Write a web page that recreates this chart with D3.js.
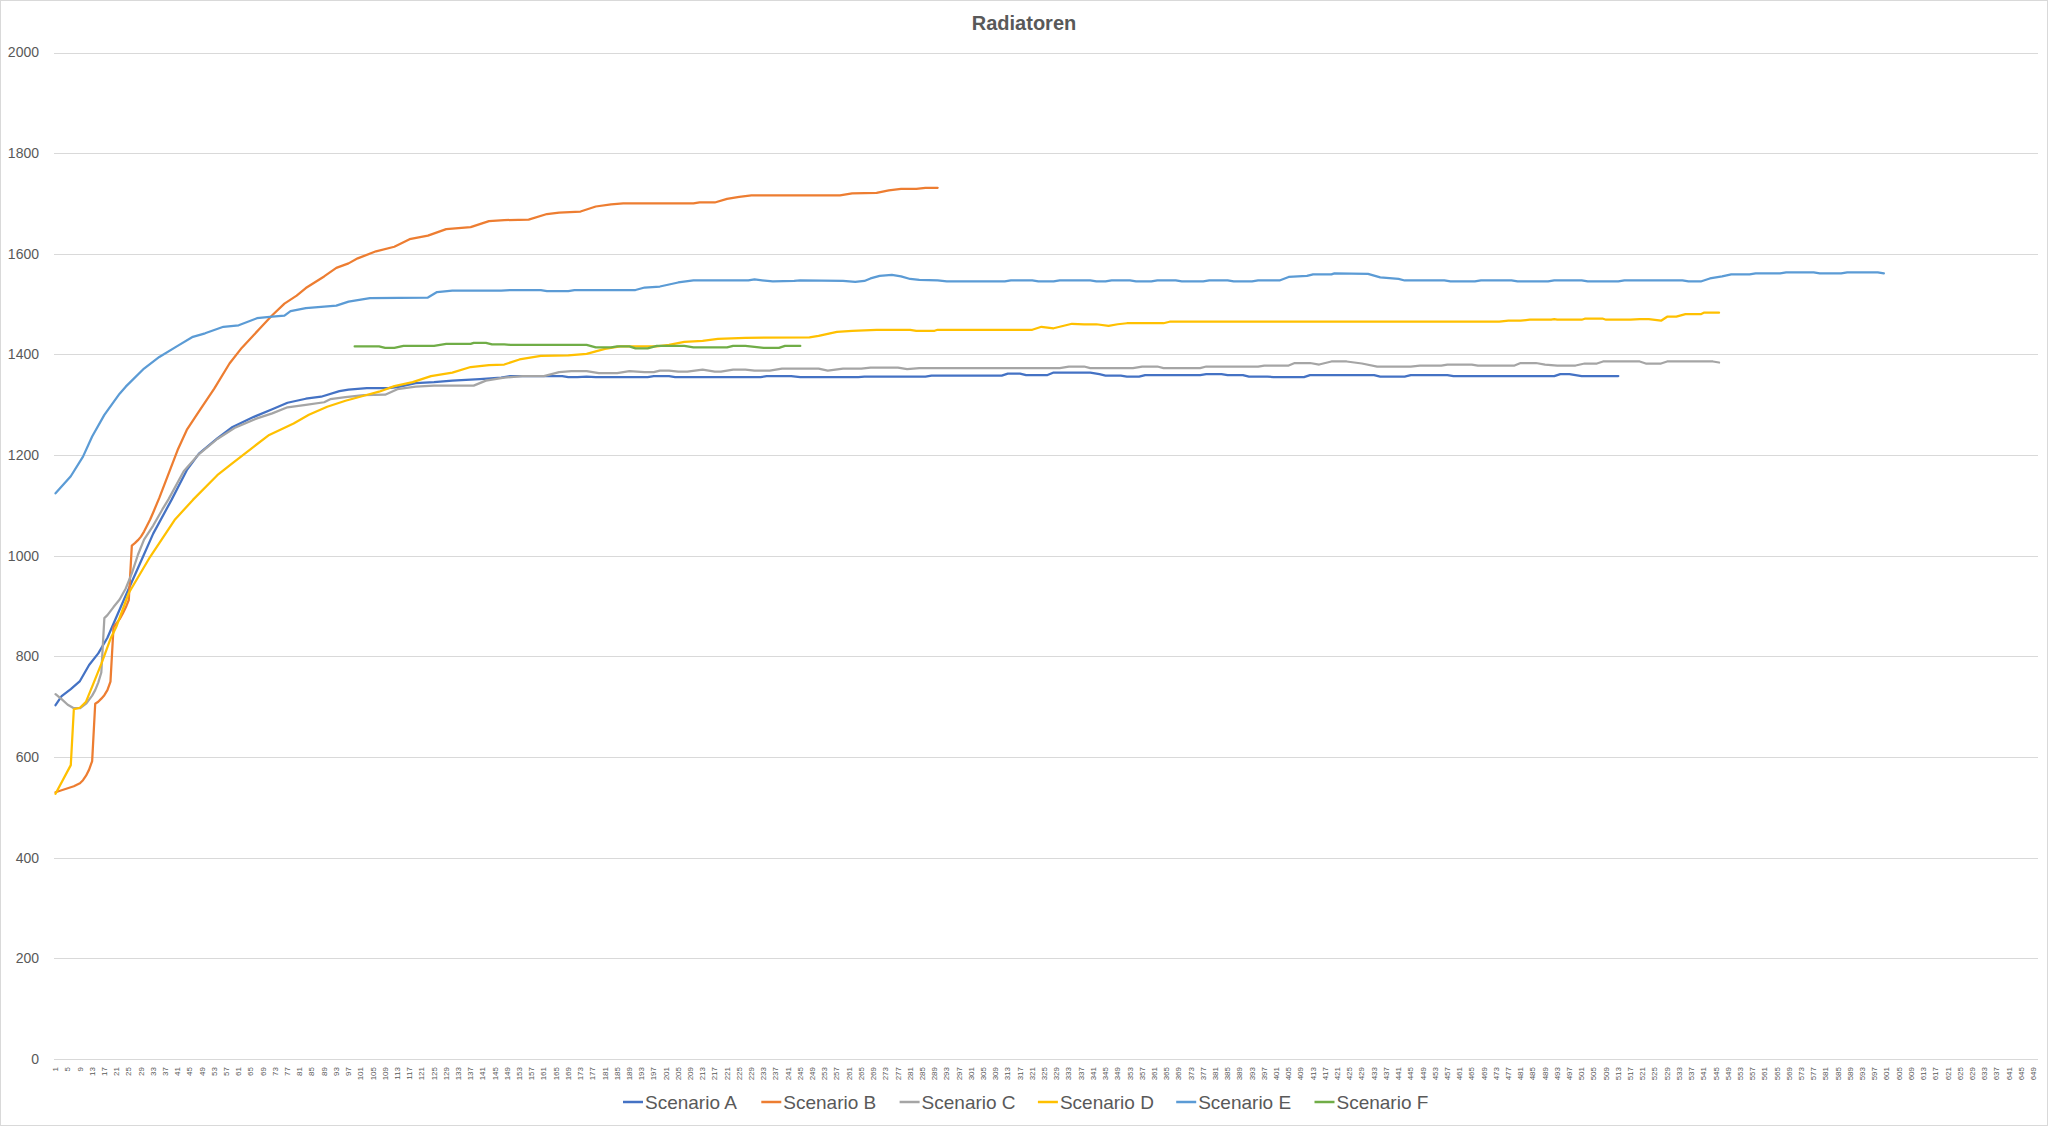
<!DOCTYPE html>
<html lang="de">
<head>
  <meta charset="UTF-8">
  <title>Radiatoren</title>
  <script src="https://d3js.org/d3.v7.min.js"></script>
  <style>
    body { margin: 0; background: #fff; }
    text { font-family: "Liberation Sans", Arial, sans-serif; fill: #595959; }
    .grid line { stroke: #d9d9d9; stroke-width: 1px; }
    .series { fill: none; stroke-width: 2.25px; stroke-linejoin: round; stroke-linecap: round; }
  </style>
</head>
<body>
<svg id="chart"></svg>
<script>
  // categories 1..650, a label on every 4th one
  var categories = d3.range(1, 651);
  var tickLabels = categories.filter(function(d) { return (d - 1) % 4 === 0; });
  var yTicks = [0, 200, 400, 600, 800, 1000, 1200, 1400, 1600, 1800, 2000];

  var seriesNames = ["Scenario A", "Scenario B", "Scenario C", "Scenario D", "Scenario E", "Scenario F"];
  var seriesColors = ["#4472C4", "#ED7D31", "#A5A5A5", "#FFC000", "#5B9BD5", "#70AD47"];

  // [category, value], line drawn straight between them
  var scenarioA = [[1,703],[3,721],[6,735],[9,751],[12,783],[15,806],[18,837],[24,921],[29,989],[33,1044],[39,1111],[44,1170],[48,1203],[54,1233],[59,1256],[66,1276],[72,1291],[77,1304],[83,1312],[88,1316],[94,1327],[97,1330],[103,1333],[110,1333],[113,1335],[119,1343],[125,1345],[131,1348],[140,1351],[147,1354],[150,1357],[167,1357],[169,1355],[172,1355],[175,1356],[178,1355],[195,1355],[197,1357],[202,1357],[204,1355],[232,1355],[234,1357],[242,1357],[245,1355],[264,1355],[266,1356],[286,1356],[288,1358],[311,1358],[313,1362],[317,1362],[319,1359],[326,1359],[328,1364],[340,1364],[343,1361],[345,1358],[350,1358],[352,1356],[356,1356],[358,1359],[376,1359],[378,1361],[383,1361],[385,1359],[390,1359],[392,1356],[398,1356],[400,1355],[410,1355],[412,1359],[433,1359],[435,1356],[443,1356],[445,1359],[457,1359],[459,1357],[492,1357],[494,1361],[497,1361],[499,1359],[501,1357],[513,1357]];
  var scenarioB = [[1,530],[3,534],[5,538],[7,542],[9,548],[10,554],[11,563],[12,575],[13,592],[14,706],[15,710],[16,716],[17,723],[18,733],[19,750],[20,858],[21,866],[22,874],[23,885],[24,897],[25,912],[26,1020],[27,1025],[28,1031],[29,1038],[30,1048],[31,1060],[32,1072],[33,1086],[35,1115],[41,1210],[44,1250],[48,1287],[53,1332],[58,1382],[62,1413],[68,1452],[72,1478],[76,1501],[80,1517],[83,1532],[89,1555],[93,1572],[97,1581],[100,1591],[106,1605],[112,1614],[117,1629],[123,1636],[129,1649],[137,1653],[143,1665],[148,1667],[156,1668],[162,1679],[166,1682],[173,1684],[178,1694],[183,1698],[187,1700],[210,1700],[212,1702],[217,1702],[221,1709],[225,1713],[229,1716],[258,1716],[262,1720],[270,1721],[274,1726],[278,1729],[283,1729],[286,1731],[290,1731]];
  var scenarioC = [[1,725],[3,715],[5,704],[7,697],[9,697],[11,706],[13,722],[14,733],[15,748],[16,768],[17,876],[18,882],[20,898],[22,913],[24,935],[26,965],[28,1002],[30,1032],[33,1060],[36,1092],[38,1112],[43,1168],[48,1202],[54,1232],[60,1255],[67,1273],[72,1283],[77,1295],[83,1300],[89,1305],[91,1311],[96,1315],[102,1319],[109,1320],[113,1331],[119,1336],[125,1338],[138,1338],[142,1348],[148,1354],[154,1357],[161,1357],[166,1365],[170,1367],[175,1367],[179,1363],[185,1363],[189,1367],[194,1365],[197,1365],[199,1368],[202,1368],[205,1366],[208,1366],[213,1370],[217,1366],[219,1366],[223,1370],[227,1370],[230,1368],[235,1368],[239,1372],[251,1372],[254,1368],[259,1372],[265,1372],[268,1374],[277,1374],[280,1371],[284,1373],[330,1373],[333,1376],[338,1376],[340,1373],[354,1373],[357,1376],[362,1376],[364,1373],[376,1373],[378,1376],[395,1376],[397,1378],[405,1378],[407,1383],[412,1383],[415,1380],[419,1386],[424,1386],[429,1382],[434,1376],[445,1376],[448,1378],[455,1378],[457,1380],[465,1380],[467,1378],[479,1378],[481,1383],[486,1383],[489,1380],[493,1378],[499,1378],[502,1382],[506,1382],[508,1386],[520,1386],[522,1382],[527,1382],[529,1386],[544,1386],[546,1384]];
  var scenarioD = [[1,527],[6,584],[7,695],[9,698],[11,710],[13,740],[16,785],[19,835],[21,860],[25,926],[32,998],[40,1071],[46,1111],[54,1160],[59,1184],[66,1217],[71,1240],[79,1263],[84,1280],[90,1296],[96,1308],[102,1318],[107,1326],[112,1337],[118,1345],[124,1357],[131,1364],[137,1375],[143,1379],[148,1380],[153,1390],[160,1397],[169,1398],[175,1401],[181,1411],[186,1416],[198,1416],[202,1419],[207,1425],[213,1427],[218,1431],[227,1433],[248,1434],[251,1437],[257,1445],[262,1447],[270,1449],[281,1449],[283,1447],[289,1447],[290,1449],[321,1449],[324,1455],[328,1452],[330,1455],[334,1461],[338,1460],[342,1460],[346,1457],[349,1460],[352,1462],[364,1462],[366,1465],[474,1465],[477,1467],[481,1467],[484,1469],[491,1469],[492,1470],[493,1469],[501,1469],[502,1471],[508,1471],[509,1469],[517,1469],[520,1470],[523,1470],[527,1467],[529,1475],[532,1475],[535,1480],[540,1480],[541,1483],[546,1483]];
  var scenarioE = [[1,1124],[6,1158],[10,1197],[13,1237],[17,1280],[22,1322],[24,1336],[30,1372],[35,1395],[41,1417],[46,1435],[50,1442],[56,1455],[61,1458],[67,1472],[72,1475],[76,1477],[78,1486],[83,1492],[89,1495],[93,1497],[97,1505],[104,1512],[123,1513],[126,1524],[131,1527],[147,1527],[150,1528],[160,1528],[162,1526],[169,1526],[171,1528],[191,1528],[194,1533],[199,1535],[205,1543],[210,1547],[228,1547],[230,1549],[236,1545],[243,1546],[245,1547],[259,1546],[263,1544],[266,1546],[268,1551],[271,1556],[275,1558],[278,1555],[281,1550],[284,1548],[290,1547],[293,1545],[312,1545],[314,1547],[321,1547],[323,1545],[328,1545],[330,1547],[340,1547],[342,1545],[345,1545],[347,1547],[353,1547],[355,1545],[360,1545],[362,1547],[368,1547],[370,1545],[377,1545],[379,1547],[385,1547],[387,1545],[393,1545],[395,1547],[402,1547],[405,1554],[411,1556],[413,1559],[419,1559],[420,1561],[431,1560],[435,1553],[441,1550],[443,1547],[456,1547],[458,1545],[466,1545],[468,1547],[478,1547],[480,1545],[490,1545],[492,1547],[501,1547],[503,1545],[513,1545],[515,1547],[534,1547],[536,1545],[540,1545],[543,1551],[547,1555],[550,1559],[556,1559],[558,1561],[566,1561],[568,1563],[577,1563],[579,1561],[586,1561],[588,1563],[598,1563],[600,1561]];
  var scenarioF = [[99,1416],[107,1416],[109,1413],[112,1413],[115,1417],[125,1417],[129,1421],[137,1421],[138,1423],[142,1423],[144,1420],[148,1420],[150,1419],[175,1419],[178,1414],[183,1414],[185,1416],[189,1416],[191,1412],[195,1412],[198,1417],[207,1417],[210,1414],[221,1414],[223,1417],[227,1417],[230,1415],[233,1413],[238,1413],[240,1417],[245,1417]];

  var allSeries = [scenarioA, scenarioB, scenarioC, scenarioD, scenarioE, scenarioF];

  var svgWidth = 2048;
  var svgHeight = 1126;
  var plot = { left: 54, right: 2038, top: 52.5, bottom: 1059 };

  var svg = d3.select("#chart")
          .attr("width", svgWidth)
          .attr("height", svgHeight);

  // chart frame
  svg.append("rect")
          .attr("x", 0.5).attr("y", 0.5)
          .attr("width", svgWidth - 1).attr("height", svgHeight - 1)
          .attr("fill", "#fff")
          .attr("stroke", "#d9d9d9");

  var x = d3.scaleBand()
          .domain(categories)
          .range([plot.left, plot.right])
          .padding(0);

  var y = d3.scaleLinear()
          .domain([0, 2000])
          .range([plot.bottom, plot.top]);

  var half = x.bandwidth() / 2;

  // horizontal gridlines
  svg.append("g")
          .attr("class", "grid")
          .selectAll("line")
          .data(yTicks)
          .enter().append("line")
          .attr("x1", plot.left)
          .attr("x2", plot.right)
          .attr("y1", function(d) { return Math.round(y(d)) + 0.5; })
          .attr("y2", function(d) { return Math.round(y(d)) + 0.5; });

  // y axis labels
  var yAxis = svg.append("g")
          .attr("transform", "translate(" + (plot.left - 15) + ",0)")
          .call(d3.axisLeft(y).tickValues(yTicks).tickFormat(d3.format("d")).tickSize(0).tickPadding(0));
  yAxis.select(".domain").remove();
  yAxis.selectAll("text")
          .attr("font-size", "14px")
          .attr("font-family", "Liberation Sans, Arial, sans-serif")
          .style("fill", "#595959");

  // x axis labels, rotated
  var xAxis = svg.append("g")
          .attr("transform", "translate(0," + plot.bottom + ")")
          .call(d3.axisBottom(x).tickValues(tickLabels).tickSize(0));
  xAxis.select(".domain").remove();
  xAxis.selectAll("text")
          .attr("transform", "rotate(-90)")
          .attr("text-anchor", "end")
          .attr("x", -8)
          .attr("y", 0)
          .attr("dy", "0.32em")
          .attr("font-size", "8px")
          .attr("font-family", "Liberation Sans, Arial, sans-serif")
          .style("fill", "#595959");

  // series lines
  var line = d3.line()
          .x(function(d) { return x(d[0]) + half; })
          .y(function(d) { return y(d[1]); });

  svg.selectAll(".series")
          .data(allSeries)
          .enter().append("path")
          .attr("class", "series")
          .attr("d", line)
          .style("stroke", function(d, i) { return seriesColors[i]; });

  // title
  svg.append("text")
          .attr("x", svgWidth / 2)
          .attr("y", 30)
          .attr("text-anchor", "middle")
          .attr("font-size", "20px")
          .attr("font-weight", "bold")
          .text("Radiatoren");

  // legend
  var legend = svg.selectAll(".legend")
          .data(seriesNames)
          .enter().append("g")
          .attr("class", "legend")
          .attr("transform", function(d, i) { return "translate(" + (623 + i * 138.3) + ",1102)"; });

  legend.append("line")
          .attr("x1", 0).attr("x2", 20)
          .attr("y1", 0).attr("y2", 0)
          .attr("stroke-width", 2.5)
          .attr("stroke", function(d, i) { return seriesColors[i]; });

  legend.append("text")
          .attr("x", 22)
          .attr("y", 0)
          .attr("dy", "0.35em")
          .attr("font-size", "19px")
          .text(function(d) { return d; });
</script>
</body>
</html>
